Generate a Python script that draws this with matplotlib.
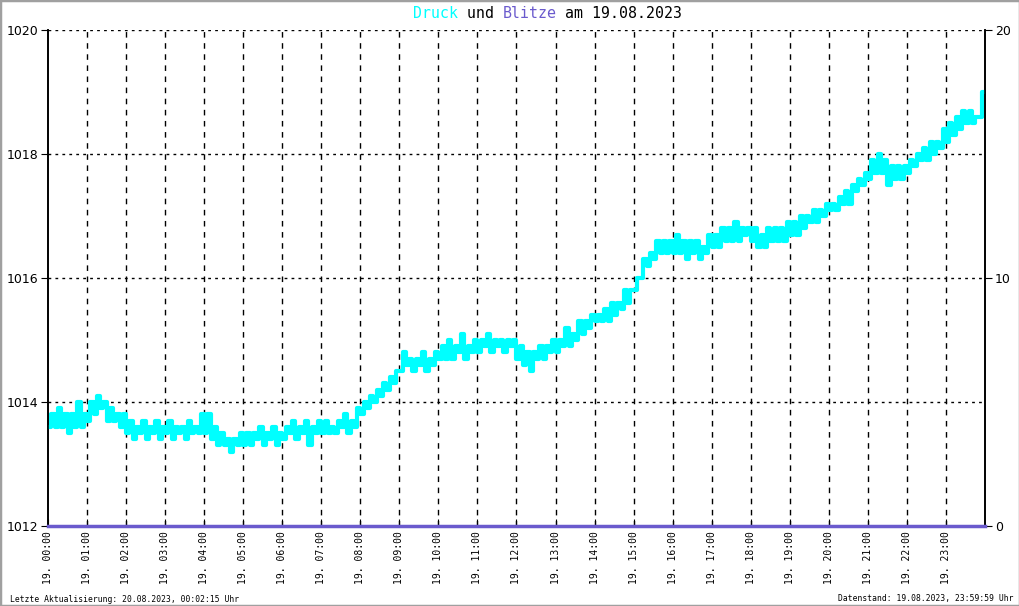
import numpy as np
import matplotlib
matplotlib.use("Agg")
import matplotlib.pyplot as plt
from matplotlib.patches import Rectangle

# pressure (hPa), 5-minute readings, one row per hour
druck_hourly = [
    [1013.6, 1013.8, 1013.6, 1013.9, 1013.6, 1013.8, 1013.5, 1013.8, 1013.6, 1014.0, 1013.6, 1013.8],
    [1013.7, 1014.0, 1013.8, 1014.1, 1013.9, 1014.0, 1013.7, 1013.9, 1013.7, 1013.8, 1013.6, 1013.8],
    [1013.5, 1013.7, 1013.4, 1013.6, 1013.5, 1013.7, 1013.4, 1013.6, 1013.5, 1013.7, 1013.4, 1013.6],
    [1013.5, 1013.7, 1013.4, 1013.6, 1013.5, 1013.6, 1013.4, 1013.7, 1013.5, 1013.6, 1013.5, 1013.8],
    [1013.5, 1013.8, 1013.4, 1013.6, 1013.3, 1013.5, 1013.3, 1013.4, 1013.2, 1013.4, 1013.3, 1013.5],
    [1013.3, 1013.5, 1013.3, 1013.5, 1013.4, 1013.6, 1013.3, 1013.5, 1013.4, 1013.6, 1013.3, 1013.5],
    [1013.4, 1013.6, 1013.5, 1013.7, 1013.4, 1013.6, 1013.5, 1013.7, 1013.3, 1013.6, 1013.5, 1013.7],
    [1013.5, 1013.7, 1013.5, 1013.6, 1013.5, 1013.7, 1013.6, 1013.8, 1013.5, 1013.7, 1013.6, 1013.9],
    [1013.8, 1014.0, 1013.9, 1014.1, 1014.0, 1014.2, 1014.1, 1014.3, 1014.2, 1014.4, 1014.3, 1014.5],
    [1014.5, 1014.8, 1014.6, 1014.7, 1014.5, 1014.7, 1014.6, 1014.8, 1014.5, 1014.7, 1014.6, 1014.8],
    [1014.7, 1014.9, 1014.7, 1015.0, 1014.7, 1014.9, 1014.8, 1015.1, 1014.7, 1014.9, 1014.8, 1015.0],
    [1014.8, 1015.0, 1014.9, 1015.1, 1014.8, 1015.0, 1014.9, 1015.0, 1014.8, 1015.0, 1014.9, 1015.0],
    [1014.7, 1014.9, 1014.6, 1014.8, 1014.5, 1014.8, 1014.7, 1014.9, 1014.7, 1014.9, 1014.8, 1015.0],
    [1014.8, 1015.0, 1014.9, 1015.2, 1014.9, 1015.1, 1015.0, 1015.3, 1015.1, 1015.3, 1015.2, 1015.4],
    [1015.3, 1015.4, 1015.3, 1015.5, 1015.3, 1015.6, 1015.4, 1015.6, 1015.5, 1015.8, 1015.6, 1015.8],
    [1015.8, 1016.0, 1016.0, 1016.3, 1016.2, 1016.4, 1016.3, 1016.6, 1016.4, 1016.6, 1016.4, 1016.6],
    [1016.4, 1016.7, 1016.4, 1016.6, 1016.3, 1016.6, 1016.4, 1016.6, 1016.3, 1016.5, 1016.4, 1016.7],
    [1016.5, 1016.7, 1016.5, 1016.8, 1016.6, 1016.8, 1016.6, 1016.9, 1016.6, 1016.8, 1016.7, 1016.8],
    [1016.6, 1016.8, 1016.5, 1016.7, 1016.5, 1016.8, 1016.6, 1016.8, 1016.6, 1016.8, 1016.6, 1016.9],
    [1016.7, 1016.9, 1016.7, 1017.0, 1016.8, 1017.0, 1016.9, 1017.1, 1016.9, 1017.1, 1017.0, 1017.2],
    [1017.1, 1017.2, 1017.1, 1017.3, 1017.2, 1017.4, 1017.2, 1017.5, 1017.4, 1017.6, 1017.5, 1017.7],
    [1017.6, 1017.9, 1017.7, 1018.0, 1017.7, 1017.9, 1017.5, 1017.8, 1017.6, 1017.8, 1017.6, 1017.8],
    [1017.7, 1017.9, 1017.8, 1018.0, 1017.9, 1018.1, 1017.9, 1018.2, 1018.0, 1018.2, 1018.1, 1018.4],
    [1018.2, 1018.5, 1018.3, 1018.6, 1018.4, 1018.7, 1018.5, 1018.7, 1018.5, 1018.6, 1018.6, 1019.0],
]
# lightning count per hour (none that day)
blitze = [0] * 25

hour_labels = ["19. %02d:00" % h for h in range(24)]
title_parts = [("Druck", "#00ffff"), (" und ", "black"), ("Blitze", "#6a5acd"),
               (" am 19.08.2023", "black")]
footer_left = "Letzte Aktualisierung: 20.08.2023, 00:02:15 Uhr"
footer_right = "Datenstand: 19.08.2023, 23:59:59 Uhr"

W, H = 1020, 606
fig = plt.figure(figsize=(W / 100, H / 100), dpi=100)
fig.patch.set_facecolor("white")
fig.patches.append(Rectangle((0, 0), 1, 1, transform=fig.transFigure, fill=False,
                             edgecolor="#a0a0a0", linewidth=2.5))

x0, x1, y0, y1 = 48, 985, 30, 526
ax = fig.add_axes([x0 / W, 1 - y1 / H, (x1 - x0) / W, (y1 - y0) / H])
ax2 = ax.twinx()

druck = np.array(druck_hourly).ravel()
t = np.arange(len(druck)) / 12.0
t = np.append(t, 24.0)
druck = np.append(druck, druck[-1])

ax.set_xlim(0, 24)
ax.set_ylim(1012, 1020)

# grid
for h in range(1, 24):
    ax.axvline(h, color="black", lw=1, ls=(0, (4, 4)), zorder=1)
for p in [1014, 1016, 1018, 1020]:
    ax.axhline(p, color="black", lw=1, ls=(0, (2, 3)), zorder=1)

ax.plot(t, druck, color="#00ffff", lw=3, drawstyle="steps-post", zorder=3)

ax2.set_ylim(0, 20)
ax2.plot(np.arange(25), blitze, color="#6a5acd", lw=2.5, clip_on=False, zorder=4)

ax.spines["top"].set_visible(False)
ax2.spines["top"].set_visible(False)
for s in ["left", "right", "bottom"]:
    ax.spines[s].set_linewidth(1.2)
    ax2.spines[s].set_linewidth(1.2)

ax.set_yticks([1012, 1014, 1016, 1018, 1020])
ax.set_yticklabels(["1012", "1014", "1016", "1018", "1020"], fontsize=9)
ax.tick_params(axis="y", direction="out", length=5, pad=2)
ax2.set_yticks([0, 10, 20])
ax2.set_yticklabels(["0", "10", "20"], fontsize=9)
ax2.tick_params(axis="y", direction="out", length=5, pad=2)

ax.set_xticks(range(24))
ax.set_xticklabels(hour_labels, rotation=90, fontsize=7, family="DejaVu Sans Mono")
ax.tick_params(axis="x", direction="in", length=5, pad=4)

# title, one coloured piece after another (monospace)
char_w = 8.93
xpos = 413
for txt, col in title_parts:
    fig.text(xpos / W, 1 - 13 / H, txt, color=col, ha="left", va="center",
             family="DejaVu Sans Mono", fontsize=10.7)
    xpos += char_w * len(txt)

fig.text(10 / W, 1 - 599 / H, footer_left, ha="left", va="center",
         family="DejaVu Sans Mono", fontsize=5.8)
fig.text(1014 / W, 1 - 599 / H, footer_right, ha="right", va="center",
         family="DejaVu Sans Mono", fontsize=5.8)

fig.savefig("out.png", dpi=100)
